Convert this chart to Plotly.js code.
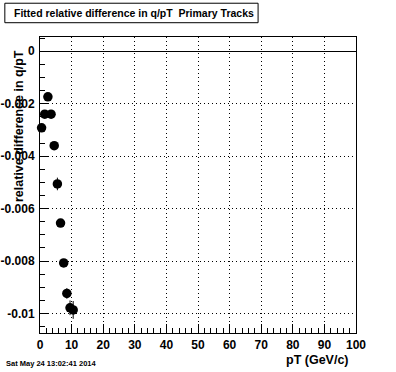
<!DOCTYPE html>
<html><head><meta charset="utf-8">
<script src="https://cdn.plot.ly/plotly-3.0.1.min.js"></script>
<style>html,body{margin:0;padding:0;background:#fff}#c{width:396px;height:372px}</style>
</head><body><div id="c"></div>
<script>
const pT = [0.5, 1.5, 2.5, 3.5, 4.5, 5.5, 6.5, 7.5, 8.5, 9.5, 10.5];
const relDiff = [-0.00292, -0.00240, -0.00174, -0.00240, -0.00360, -0.00506, -0.00655, -0.00807, -0.00923, -0.00978, -0.00986];
const relErr = [0.00008, 0.00008, 0.00008, 0.00008, 0.00010, 0.00024, 0.00015, 0.00015, 0.00020, 0.00028, 0.00034];
const yTickVals = [0, -0.002, -0.004, -0.006, -0.008, -0.01];
const yTickLabels = ["0", "-0.002", "-0.004", "-0.006", "-0.008", "-0.01"];
const titleText = "Fitted relative difference in q/pT  Primary Tracks";
const xTitle = "pT (GeV/c)";
const yTitle = "relative difference in q/pT";
const dateText = "Sat May 24 13:02:41 2014";

const W = 396, H = 372, L = 39.7, R = 40, T = 37.3, B = 38.5;
const pw = W - L - R, ph = H - T - B;
const px = v => (v - L) / pw;
const py = v => (H - B - v) / ph;
const font = "Liberation Sans, Arial, sans-serif";

const data = [{
  x: pT, y: relDiff, type: 'scatter', mode: 'markers',
  marker: {color: '#000', size: 9.5},
  error_y: {type: 'data', array: relErr, visible: true, color: '#000', thickness: 1, width: 0},
  cliponaxis: false
}];

const layout = {
  width: W, height: H,
  margin: {l: L, r: R, t: T, b: B, pad: 0},
  paper_bgcolor: '#fff', plot_bgcolor: '#fff',
  showlegend: false,
  font: {family: font, color: '#000'},
  xaxis: {
    range: [0, 100], tick0: 0, dtick: 10,
    ticks: 'inside', ticklen: 9, tickcolor: '#000', tickwidth: 1,
    minor: {dtick: 2, ticks: 'inside', ticklen: 5, tickcolor: '#000', showgrid: false},
    showgrid: true, gridcolor: '#000', griddash: '1px,3px', gridwidth: 1,
    zeroline: false, showline: true, mirror: true, linecolor: '#000', linewidth: 1,
    tickfont: {size: 12, family: font, weight: 'bold'},
    ticklabelstandoff: 1,
    title: {text: ''}
  },
  yaxis: {
    range: [-0.01074, 0.00054], tickmode: 'array', tickvals: yTickVals, ticktext: yTickLabels,
    ticks: 'inside', ticklen: 9, tickcolor: '#000', tickwidth: 1,
    minor: {tick0: 0, dtick: 0.0005, ticks: 'inside', ticklen: 5, tickcolor: '#000', showgrid: false},
    showgrid: true, gridcolor: '#000', griddash: '1px,3px', gridwidth: 1,
    zeroline: true, zerolinecolor: '#000', zerolinewidth: 1,
    showline: true, mirror: true, linecolor: '#000', linewidth: 1,
    tickfont: {size: 12, family: font, weight: 'bold'},
    ticklabelstandoff: 2,
    title: {text: ''}
  },
  shapes: [
    {type: 'rect', xref: 'paper', yref: 'paper', x0: px(4.5), x1: px(258), y0: py(3.5), y1: py(23),
     line: {color: '#000', width: 1}, fillcolor: '#fff', layer: 'above'}
  ],
  annotations: [
    {xref: 'paper', yref: 'paper', x: px(12), y: py(13.5), xanchor: 'left', yanchor: 'middle',
     text: titleText, showarrow: false, align: 'left',
     font: {size: 10.5, family: font, weight: 'bold'}},
    {xref: 'paper', yref: 'paper', x: px(351), y: py(361), xanchor: 'right', yanchor: 'middle',
     text: xTitle, showarrow: false, font: {size: 12.5, family: font, weight: 'bold'}},
    {xref: 'paper', yref: 'paper', x: px(18), y: py(48), xanchor: 'center', yanchor: 'top',
     text: yTitle, textangle: -90, showarrow: false, font: {size: 12.5, family: font, weight: 'bold'}},
    {xref: 'paper', yref: 'paper', x: px(4), y: py(364), xanchor: 'left', yanchor: 'middle',
     text: dateText, showarrow: false, font: {size: 7.5, family: font, weight: 'bold'}}
  ]
};
Plotly.newPlot('c', data, layout, {staticPlot: true, displayModeBar: false});
</script></body></html>
